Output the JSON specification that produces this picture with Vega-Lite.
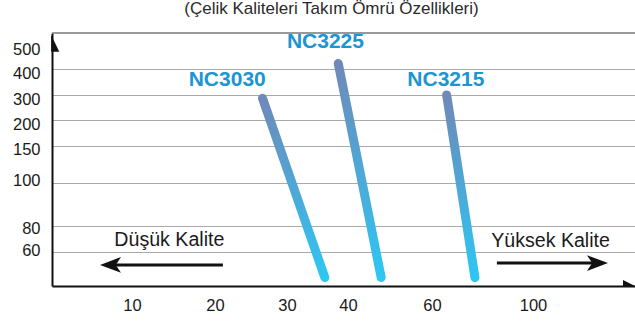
{
  "$schema": "https://vega.github.io/schema/vega-lite/v6.json",
  "width": 583,
  "height": 253,
  "autosize": {"type": "none"},
  "padding": {"left": 52, "top": 33, "right": 0, "bottom": 36},
  "background": "white",
  "config": {
    "view": {"stroke": null},
    "font": "Liberation Sans"
  },
  "title": {
    "text": "(Çelik Kaliteleri Takım Ömrü Özellikleri)",
    "fontSize": 17,
    "fontWeight": "normal",
    "color": "#2a2a2a",
    "font": "Liberation Sans",
    "anchor": "middle",
    "dx": -12,
    "offset": 13
  },
  "encoding": {
    "x": {
      "field": "x",
      "type": "quantitative",
      "scale": {"domain": [5, 10, 20, 30, 40, 60, 100, 200], "range": [0, 80, 163, 235, 296, 380, 481, 583], "nice": false, "zero": false, "clamp": false},
      "axis": {
        "title": null,
        "values": [10, 20, 30, 40, 60, 100],
        "grid": false,
        "ticks": false,
        "labelPadding": 11,
        "labelFontSize": 16.5,
        "labelColor": "#1a1a1a",
        "labelFont": "Liberation Sans",
        "domainColor": "#111111",
        "domainWidth": 2
      }
    },
    "y": {
      "field": "y",
      "type": "quantitative",
      "scale": {"domain": [40, 60, 80, 100, 150, 200, 300, 400, 500, 600], "range": [253, 219, 193, 150, 113, 87, 62, 36, 16, 0], "nice": false, "zero": false},
      "axis": {
        "title": null,
        "values": [60, 80, 100, 150, 200, 300, 400, 500],
        "grid": true,
        "gridColor": "#aaaaaa",
        "gridWidth": 1,
        "gridOpacity": {"expr": "datum.value == 500 ? 0 : 1"},
        "ticks": false,
        "labelPadding": 12,
        "labelFontSize": 16.5,
        "labelColor": "#1a1a1a",
        "labelFont": "Liberation Sans",
        "labelBaseline": "middle",
        "labelOffset": {"expr": "datum.value == 400 || datum.value == 300 || datum.value == 200 ? 4 : datum.value == 150 ? 3 : datum.value == 100 ? -3 : datum.value == 80 ? 2 : datum.value == 60 ? -2 : 0"},
        "domainColor": "#111111",
        "domainWidth": 2
      }
    }
  },
  "layer": [
    {
      "data": {"values": [{"x": 5, "x2": 200, "y": 600}]},
      "mark": {"type": "rule", "color": "#777777", "strokeWidth": 1.5},
      "encoding": {"x2": {"field": "x2"}}
    },
    {
      "data": {"values": [
        {"series": "NC3030", "x": 26.6, "y": 287},
        {"series": "NC3030", "x": 36.2, "y": 45},
        {"series": "NC3225", "x": 38.4, "y": 428},
        {"series": "NC3225", "x": 47.9, "y": 45},
        {"series": "NC3215", "x": 65.8, "y": 300},
        {"series": "NC3215", "x": 77.0, "y": 45}
      ]},
      "mark": {
        "type": "line",
        "strokeWidth": 9,
        "strokeCap": "round",
        "stroke": {
          "gradient": "linear",
          "x1": 0, "y1": 0, "x2": 0, "y2": 1,
          "stops": [
            {"offset": 0, "color": "#6f89b9"},
            {"offset": 1, "color": "#2ec6f2"}
          ]
        }
      },
      "encoding": {"detail": {"field": "series"}}
    },
    {
      "data": {"values": [
        {"label": "NC3030", "x": 21.7, "y": 358},
        {"label": "NC3225", "x": 36.3, "y": 544},
        {"label": "NC3215", "x": 65.5, "y": 358}
      ]},
      "mark": {"type": "text", "fontSize": 21, "fontWeight": "bold", "color": "#1b95d3", "font": "Liberation Sans", "baseline": "middle", "align": "center"},
      "encoding": {"text": {"field": "label"}}
    },
    {
      "data": {"values": [
        {"label": "Düşük Kalite", "x": 14.5, "y": 69.2},
        {"label": "Yüksek Kalite", "x": 117.2, "y": 68.5}
      ]},
      "mark": {"type": "text", "fontSize": 19.6, "color": "#1a1a1a", "font": "Liberation Sans", "baseline": "middle", "align": "center"},
      "encoding": {"text": {"field": "label"}}
    },
    {
      "data": {"values": [
        {"x": 21.1, "x2": 8.9, "y": 52.4},
        {"x": 85.7, "x2": 158.8, "y": 53.5}
      ]},
      "mark": {"type": "rule", "color": "#111111", "strokeWidth": 3},
      "encoding": {"x2": {"field": "x2"}}
    },
    {
      "data": {"values": [{"x": 8.0, "y": 52.4}]},
      "mark": {"type": "point", "filled": true, "color": "#111111", "opacity": 1, "size": 441, "shape": "M0,0 L2,-0.75 L1.5,0 L2,0.75 Z"},
      "encoding": {}
    },
    {
      "data": {"values": [{"x": 173.5, "y": 53.5}]},
      "mark": {"type": "point", "filled": true, "color": "#111111", "opacity": 1, "size": 441, "shape": "M0,0 L-2,-0.75 L-1.5,0 L-2,0.75 Z"},
      "encoding": {}
    },
    {
      "data": {"values": [{"x": 5, "y": 600}]},
      "mark": {"type": "point", "filled": true, "color": "#111111", "opacity": 1, "size": 289, "shape": "M-0.1,0.24 L-0.1,2.2 L0.86,2.2 Z"},
      "encoding": {}
    },
    {
      "data": {"values": [{"x": 200, "y": 40}]},
      "mark": {"type": "point", "filled": true, "color": "#111111", "opacity": 1, "size": 144, "shape": "M-2,-1 L0,0 L-2,0 Z"},
      "encoding": {}
    }
  ]
}
